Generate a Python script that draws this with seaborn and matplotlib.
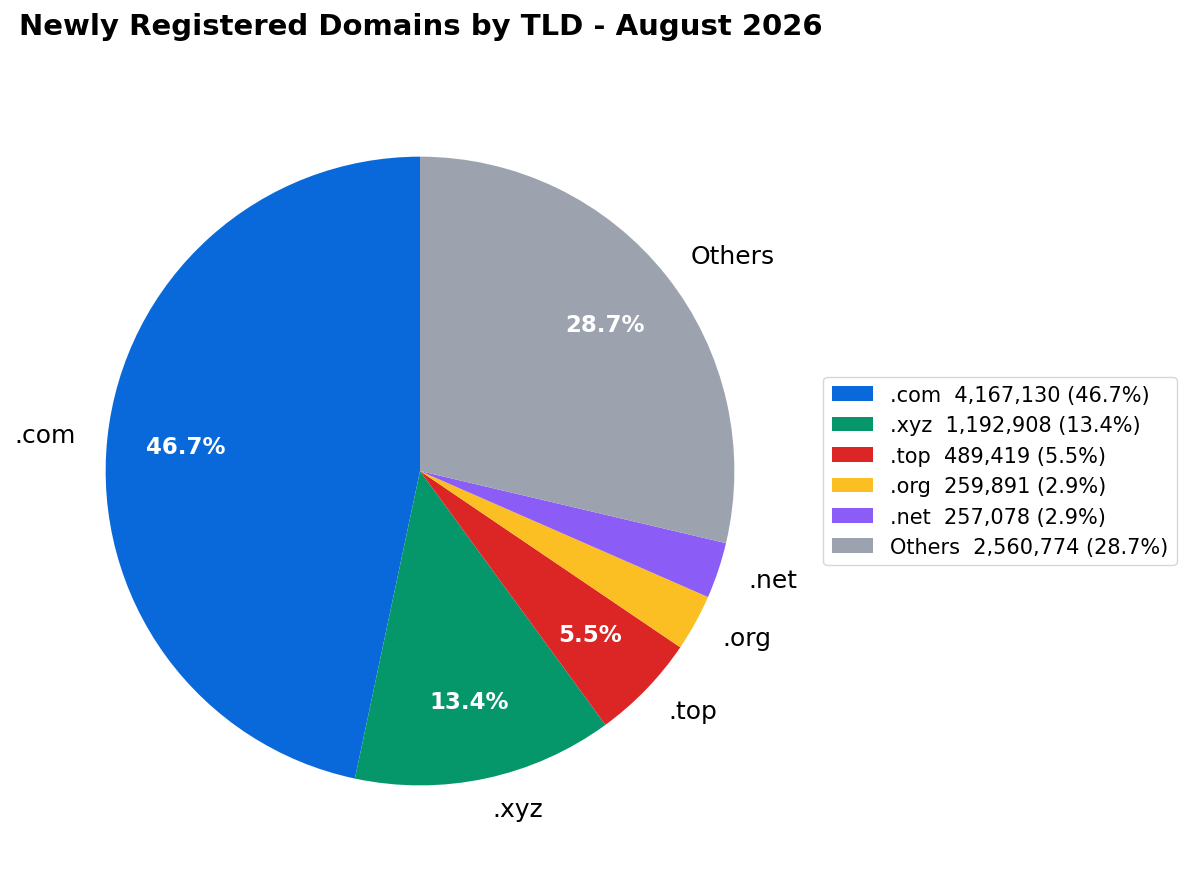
import seaborn as sns
import matplotlib.pyplot as plt

##### Data

tlds = ['.com', '.xyz', '.top', '.org', '.net', 'Others']
counts = [4167130, 1192908, 489419, 259891, 257078, 2560774]
colors = ['#0969da', '#059669', '#dc2626', '#fbbf24', '#8b5cf6', '#9ca3af']

total = sum(counts)

##### Plot

sns.set_style('white')
plt.rcParams['text.color'] = 'black'

fig, ax = plt.subplots(figsize=(11.92, 8.79), dpi=100)

def show_pct(p):
    # only label the bigger slices
    return f'{p:.1f}%' if p > 5 else ''

wedges, texts, autotexts = ax.pie(counts, labels=tlds, colors=colors,
                                  startangle=90, counterclock=True,
                                  autopct=show_pct, pctdistance=0.75,
                                  labeldistance=1.1,
                                  wedgeprops={'linewidth': 0},
                                  textprops={'fontsize': 18, 'color': 'black'})
for t in autotexts:
    t.set_color('white')
    t.set_fontweight('bold')
    t.set_fontsize(16.5)
ax.set_aspect('equal')

legend_labels = [f'{t}  {c:,} ({c / total * 100:.1f}%)' for t, c in zip(tlds, counts)]
leg = ax.legend(wedges, legend_labels, loc='center left', bbox_to_anchor=(1.0, 0.5),
                fontsize=15, frameon=True)
for t in leg.get_texts():
    t.set_color('black')

fig.text(0.016, 0.985, 'Newly Registered Domains by TLD - August 2026',
         ha='left', va='top', fontsize=21, fontweight='bold', color='black')

fig.subplots_adjust(left=0.0227, right=0.682, top=0.9101, bottom=0.0159)

plt.savefig('out.png', dpi=100)
